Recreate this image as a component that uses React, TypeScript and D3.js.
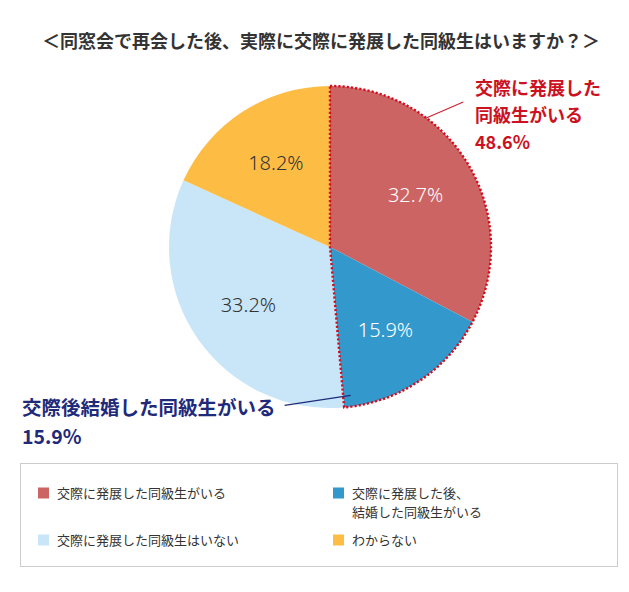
import React from "react";
import * as d3 from "d3";

const title = "＜同窓会で再会した後、実際に交際に発展した同級生はいますか？＞";
const categories = [
  "交際に発展した同級生がいる",
  "交際に発展した後、\n結婚した同級生がいる",
  "交際に発展した同級生はいない",
  "わからない",
];
const values = [32.7, 15.9, 33.2, 18.2];
const colors = ["#cd6464", "#3399cc", "#c9e6f8", "#fdbd45"];
const labelColors = ["#ffffff", "#ffffff", "#333333", "#333333"];
const redCallout = ["交際に発展した", "同級生がいる", "48.6%"];
const blueCallout = ["交際後結婚した同級生がいる", "15.9%"];
const legendOrder = [0, 1, 2, 3];

const W = 629;
const H = 592;
const cx = 330;
const cy = 247;
const R = 161;
const jp = "'Noto Sans CJK JP', 'Noto Sans', sans-serif";

export default function App() {
  const pie = d3.pie<number>().sort(null).startAngle(0).endAngle(2 * Math.PI);
  const arcs = pie(values);
  const arc = d3.arc<any>().innerRadius(0).outerRadius(R);
  const labelArc = d3.arc<any>().innerRadius(100).outerRadius(100);
  const total = d3.sum(values);
  const combinedEnd = ((values[0] + values[1]) / total) * 2 * Math.PI;
  const outline = arc({ startAngle: 0, endAngle: combinedEnd }) as string;
  const polar = (a: number, r: number) => [Math.sin(a) * r, -Math.cos(a) * r];

  const redA = arcs[0].startAngle + (arcs[0].endAngle - arcs[0].startAngle) * 0.312;
  const [rx1, ry1] = polar(redA, R);
  const blueA = arcs[1].endAngle - 0.05;
  const [bx1, by1] = polar(blueA, R * 0.93);

  return (
    <svg width={W} height={H} style={{ position: "absolute", left: 0, top: 0, background: "#fff" }}>
      <text x={321} y={48} textAnchor="middle" fontFamily={jp} fontWeight={700} fontSize={18} fill="#333">
        {title}
      </text>
      <g transform={`translate(${cx},${cy})`}>
        {arcs.map((a, i) => (
          <path key={i} d={arc(a) as string} fill={colors[i]} />
        ))}
        <path d={outline} fill="none" stroke="#d40d1e" strokeWidth={2.4} strokeDasharray="2.2 2" />
        {arcs.map((a, i) => {
          const [x, y] = labelArc.centroid(a);
          return (
            <text key={i} x={x} y={y} dy="0.35em" textAnchor="middle" fontFamily="'Noto Sans', sans-serif" fontWeight={300} fontSize={20} fill={labelColors[i]}>
              {values[i].toFixed(1)}%
            </text>
          );
        })}
        <line x1={rx1} y1={ry1} x2={rx1 + 37} y2={ry1 - 16} stroke="#cc2233" strokeWidth={1.2} />
        <line x1={bx1} y1={by1} x2={bx1 - 66} y2={by1 + 10} stroke="#1f2a7a" strokeWidth={1.2} />
      </g>
      {redCallout.map((t, i) => (
        <text key={i} x={475} y={89 + i * 27} dy="0.35em" fontFamily={jp} fontWeight={700} fontSize={18} fill="#cc1122">
          {t}
        </text>
      ))}
      {blueCallout.map((t, i) => (
        <text key={i} x={22} y={408 + i * 29} dy="0.35em" fontFamily={jp} fontWeight={700} fontSize={19.5} fill="#1f2a7a">
          {t}
        </text>
      ))}
      <rect x={20.5} y={463.5} width={597} height={103} fill="none" stroke="#cccccc" />
      {legendOrder.map((idx, k) => {
        const col = k % 2;
        const row = Math.floor(k / 2);
        const x = col === 0 ? 38 : 333;
        const y = row === 0 ? 493 : 540;
        const lines = categories[idx].split("\n");
        return (
          <g key={idx}>
            <rect x={x} y={y - 5.5} width={11} height={11} fill={colors[idx]} />
            {lines.map((ln, j) => (
              <text key={j} x={x + 19} y={y + j * 19} dy="0.35em" fontFamily={jp} fontSize={13} fill="#333">
                {ln}
              </text>
            ))}
          </g>
        );
      })}
    </svg>
  );
}
